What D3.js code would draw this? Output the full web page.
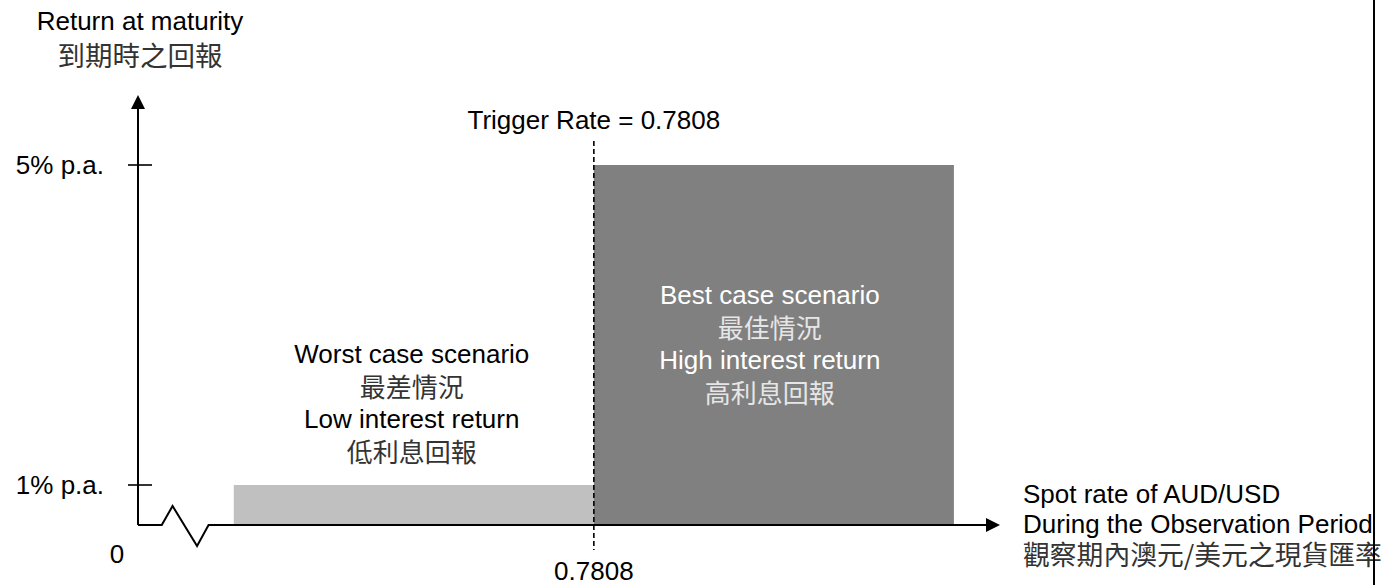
<!DOCTYPE html>
<html><head><meta charset="utf-8">
<script src="https://cdn.jsdelivr.net/npm/d3@7/dist/d3.min.js"></script>
<style>
html,body{margin:0;padding:0;background:#fff;}
svg{display:block;}
.en{font-family:"Liberation Sans",Arial,sans-serif;}
.zh{font-family:"Noto Sans CJK TC","Noto Sans CJK SC",sans-serif;}
</style></head>
<body>
<svg id="chart" width="1383" height="585"></svg>
<script>
// ---- data ----
const triggerRate = 0.7808;
const xExtent = [0.7175, 0.8372];            // spot-rate span of the schematic axis
const yLevels = [0, 1, 5];                   // returns (% p.a.)
const yTickValues = [1, 5];
const yTickLabels = ["1% p.a.", "5% p.a."];
const yAxisTop = 5.875;
const breakPoints = [0.7208, 0.7223, 0.7257, 0.7273]; // axis-break zigzag (spot units)
const scenarios = [
  {name:"worst", from:0.7308, to:0.7808, ret:1, lines:["Worst case scenario","最差情況","Low interest return","低利息回報"]},
  {name:"best",  from:0.7808, to:0.8308, ret:5, lines:["Best case scenario","最佳情況","High interest return","高利息回報"]}
];
const yTitle = ["Return at maturity", "到期時之回報"];
const xTitle = ["Spot rate of AUD/USD", "During the Observation Period", "觀察期內澳元/美元之現貨匯率"];
const triggerLabel = "Trigger Rate = 0.7808";
const triggerTickLabel = "0.7808";
const zeroLabel = "0";

// ---- scales ----
const x = d3.scaleLinear().domain(xExtent).range([138, 1000]);
const y = d3.scaleLinear().domain(yLevels).range([525, 485, 165]);
const yTopPx = y(5) - (yAxisTop-5)*((y(1)-y(5))/4);

const svg = d3.select("#chart");
const isZh = s => /[\u3400-\u9fff]/.test(s);
const EN = 26, ZH = 26, ZHT = 27.5, ZHX = 26.8;

// bars
const barFill = {worst:"#c0c0c0", best:"#808080"};
svg.selectAll("rect.bar").data(scenarios).join("rect")
  .attr("x", d => x(d.from)).attr("width", d => x(d.to)-x(d.from))
  .attr("y", d => y(d.ret)).attr("height", d => y(0)-y(d.ret))
  .attr("fill", d => barFill[d.name]);

// y axis line
svg.append("line").attr("x1", x(xExtent[0])).attr("x2", x(xExtent[0]))
  .attr("y1", y(0)).attr("y2", yTopPx+12).attr("stroke","#000").attr("stroke-width",2);
svg.append("path").attr("d", `M${x(xExtent[0])},${yTopPx} l-7,14 l14,0 z`).attr("fill","#000");

// y ticks
svg.selectAll("line.ytick").data(yTickValues).join("line")
  .attr("x1", x(xExtent[0])-10).attr("x2", x(xExtent[0])+14)
  .attr("y1", d=>y(d)).attr("y2", d=>y(d)).attr("stroke","#000").attr("stroke-width",1.6);
svg.selectAll("text.ylab").data(yTickValues).join("text")
  .attr("class","en").attr("x", 104).attr("y", d=>y(d)+9)
  .attr("text-anchor","end").attr("font-size",EN).text((d,i)=>yTickLabels[i]);

// x axis with break
const bx = breakPoints.map(x);
const axisPath = d3.path();
axisPath.moveTo(x(xExtent[0]), y(0));
axisPath.lineTo(bx[0], y(0));
axisPath.lineTo(bx[1], y(0)-19);
axisPath.lineTo(bx[2], y(0)+21);
axisPath.lineTo(bx[3], y(0));
axisPath.lineTo(x(xExtent[1])-12, y(0));
svg.append("path").attr("d", axisPath.toString()).attr("fill","none")
  .attr("stroke","#000").attr("stroke-width",2).attr("stroke-linejoin","miter");
svg.append("path").attr("d", `M${x(xExtent[1])},${y(0)} l-14,-7 l0,14 z`).attr("fill","#000");

// trigger dashed line
svg.append("line").attr("x1", x(triggerRate)).attr("x2", x(triggerRate))
  .attr("y1", 141).attr("y2", 550).attr("stroke","#000").attr("stroke-width",1.6)
  .attr("stroke-dasharray","5,3");

// labels
svg.append("text").attr("class","en").attr("x", x(triggerRate)).attr("y",129)
  .attr("text-anchor","middle").attr("font-size",EN).text(triggerLabel);
svg.append("text").attr("class","en").attr("x", x(triggerRate)).attr("y",580)
  .attr("text-anchor","middle").attr("font-size",EN).text(triggerTickLabel);
svg.append("text").attr("class","en").attr("x", 117).attr("y",563)
  .attr("text-anchor","middle").attr("font-size",EN).text(zeroLabel);

// y title
svg.selectAll("text.ytitle").data(yTitle).join("text")
  .attr("class", d => isZh(d) ? "zh" : "en")
  .attr("x", 140).attr("y",(d,i)=>i ? 66 : 30).attr("text-anchor","middle")
  .attr("font-size", d=>isZh(d)?ZHT:EN).attr("fill", d=>isZh(d)?"#333":"#000").text(d=>d);

// x title
svg.selectAll("text.xtitle").data(xTitle).join("text")
  .attr("class", d => isZh(d) ? "zh" : "en")
  .attr("x", 1023).attr("y",(d,i)=>[503,533,565][i])
  .attr("font-size", d=>isZh(d)?ZHX:EN)
  .attr("fill", d=>isZh(d)?"#333":"#000").text(d=>d);

// scenario texts
const scenTop = {worst:363, best:304};
scenarios.forEach(s => {
  const cx = s.name==="worst" ? x(s.from)+178 : (x(s.from)+x(s.to))/2 - 4;
  svg.selectAll(null).data(s.lines).join("text")
    .attr("class", d => isZh(d) ? "zh" : "en")
    .attr("x", cx)
    .attr("y", (d,i)=> scenTop[s.name] + i*32.5 + (isZh(d)?1:0))
    .attr("text-anchor","middle").attr("font-size", d=>isZh(d)?ZH:EN)
    .attr("fill", d => s.name==="best" ? (isZh(d)?"#e6e6e6":"#fff") : (isZh(d)?"#333":"#000"))
    .text(d=>d);
});

// right border
svg.append("line").attr("x1",1374).attr("x2",1374).attr("y1",0).attr("y2",585)
  .attr("stroke","#000").attr("stroke-width",2);
</script>
</body></html>
